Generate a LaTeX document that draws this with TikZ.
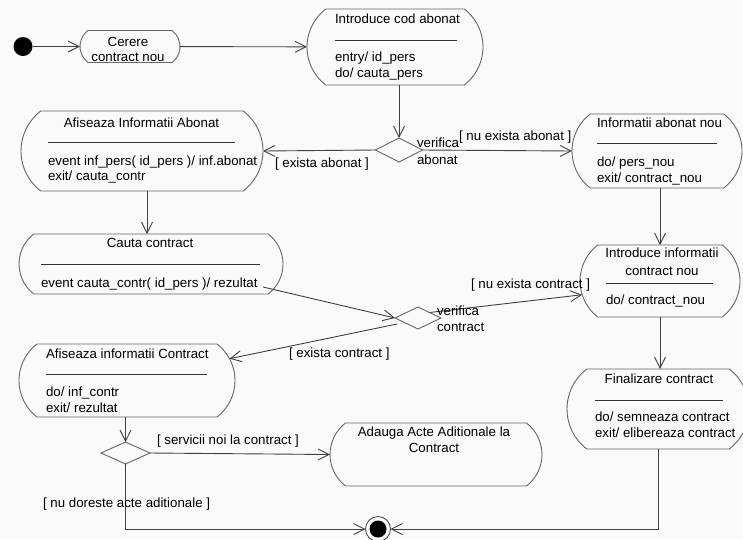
\documentclass[tikz,border=0pt]{standalone}
\usepackage{fontspec}
\setmainfont{Liberation Sans}
\usetikzlibrary{arrows.meta, shapes.misc, shapes.geometric, positioning}

\begin{document}
\begin{tikzpicture}[
    x=1pt, y=-1pt,
    font=\fontsize{13.3}{15.5}\selectfont,
    every node/.style={inner sep=0pt, outer sep=0pt},
    stt/.style={rounded rectangle, rounded rectangle arc length=105,
      draw=black!60, line width=0.9pt},
    dec/.style={diamond, draw=black!60, line width=0.9pt},
    trans/.style={draw=black!75, line width=0.9pt,
      -{Straight Barb[length=11pt, width=11pt]}},
    sep/.style={draw=black!80, line width=0.9pt},
    txt/.style={anchor=base west, align=left},
    ctxt/.style={anchor=base, align=center},
    startnode/.style={circle, fill=black, minimum size=19pt},
    stopnode/.style={circle, draw=black!70, line width=0.9pt, fill=white,
      minimum size=25pt,
      path picture={\fill[black] (path picture bounding box.center) circle (8.5pt);}},
  ]
  \fill[white!98!black] (0,0) rectangle (743,539);
  \useasboundingbox (0,0) rectangle (743,539);
  % start and end
  \node[startnode] (start) at (23,46.5) {};
  \node[stopnode]  (stop)  at (378,529) {};
  % states
  \node[stt, minimum width=100, minimum height=32] (cerere)   at (130,46.5) {};
  \node[stt, minimum width=176, minimum height=76] (intro)    at (395,47) {};
  \node[stt, minimum width=242, minimum height=80] (afisAb)   at (142,151) {};
  \node[stt, minimum width=170, minimum height=74] (infoNou)  at (657,151) {};
  \node[stt, minimum width=264, minimum height=60] (cauta)    at (151,264) {};
  \node[stt, minimum width=160, minimum height=72] (introCtr) at (660,281) {};
  \node[stt, minimum width=216, minimum height=73] (afisCtr)  at (127,380.5) {};
  \node[stt, minimum width=212, minimum height=63] (adauga)   at (436,454.5) {};
  \node[stt, minimum width=182, minimum height=80] (finaliz)  at (658,409) {};
  % decisions
  \node[dec, minimum width=47, minimum height=24] (vAb)  at (399,150) {};
  \node[dec, minimum width=46, minimum height=22] (vCtr) at (418,318) {};
  \node[dec, minimum width=49, minimum height=22] (vSrv) at (125.5,453) {};
  % state texts (base = last line)
  \node[ctxt] (cerere-t) at (128,61.5) {Cerere\\[-0.5pt]contract nou};
  \node[txt] (intro-t) at (335,23.5) {Introduce cod abonat};
  \draw[sep] (335,40) -- (457,40);
  \node[txt] (intro-b) at (335,77) {entry/ id\_pers\\do/ cauta\_pers};
  \node[ctxt] (afisAb-t) at (141.5,127.5) {Afiseaza Informatii Abonat};
  \draw[sep] (48,142) -- (235,142);
  \node[txt] (afisAb-b) at (48,180) {event inf\_pers( id\_pers )/ inf.abonat\\[-1pt]exit/ cauta\_contr};
  \node[txt] (infoNou-t) at (597,127.5) {Informatii abonat nou};
  \draw[sep] (597,143) -- (717,143);
  \node[txt] (infoNou-b) at (597,182) {do/ pers\_nou\\exit/ contract\_nou};
  \node[ctxt] (cauta-t) at (150,247.5) {Cauta contract};
  \draw[sep] (41,264) -- (260,264);
  \node[txt] (cauta-b) at (41,287.5) {event cauta\_contr( id\_pers )/ rezultat};
  \node[ctxt] (introCtr-t) at (662,275.5) {Introduce informatii\\[2.5pt]contract nou};
  \draw[sep] (606,283) -- (713,283);
  \node[txt] (introCtr-b) at (606,304.5) {do/ contract\_nou};
  \node[txt] (afisCtr-t) at (46,358.5) {Afiseaza informatii Contract};
  \draw[sep] (46,374) -- (207,374);
  \node[txt] (afisCtr-b) at (46,412.5) {do/ inf\_contr\\[0.5pt]exit/ rezultat};
  \node[ctxt] (adauga-t) at (434,452.5) {Adauga Acte Aditionale la\\[0.5pt]Contract};
  \node[ctxt] (finaliz-t) at (659,383.5) {Finalizare contract};
  \draw[sep] (595,400) -- (723,400);
  \node[txt] (finaliz-b) at (595,437.5) {do/ semneaza contract\\[0.5pt]exit/ elibereaza contract};
  % transitions
  \draw[trans] (start) -- (cerere);
  \draw[trans] (cerere) -- (intro);
  \draw[trans] (intro.south -| vAb.north) -- (vAb.north);
  \draw[trans] (vAb.west) -- (afisAb.east);
  \draw[trans] (vAb.east) -- (infoNou.west);
  \draw[trans] (infoNou.south -| introCtr.north) -- (introCtr.north);
  \draw[trans] ([shift={(5,0)}]afisAb.south) -- ([shift={(5,0)}]afisAb.south |- cauta.north);
  \draw[trans] ([shift={(112,23)}]cauta.center) -- (vCtr.west);
  \draw[trans] (vCtr.north east) -- (introCtr.190);
  \draw[trans] ([shift={(-21,6)}]vCtr.center) -- (afisCtr.12);
  \draw[trans] (afisCtr.south -| vSrv.north) -- (vSrv.north);
  \draw[trans] (vSrv.east) -- (adauga.west);
  \draw[trans] (vSrv.south) |- (stop.west);
  \draw[trans] (introCtr.south) -- (introCtr.south |- finaliz.north);
  \draw[trans] (finaliz.south) |- (stop.east);
  % guards and decision labels
  \node[txt] (vAb-l) at (417,164.5) {verifica\\[1.5pt]abonat};
  \node[txt] (exAb) at (275,167.5) {[ exista abonat ]};
  \node[txt] (nuAb) at (459,140.5) {[ nu exista abonat ]};
  \node[txt] (vCtr-l) at (437,331.5) {verifica\\[0.5pt]contract};
  \node[txt] (nuCtr) at (471,288.5) {[ nu exista contract ]};
  \node[txt] (exCtr) at (289,357.5) {[ exista contract ]};
  \node[txt] (srv) at (157,444.5) {[ servicii noi la contract ]};
  \node[txt] (nuAct) at (43,507.5) {[ nu doreste acte aditionale ]};
\end{tikzpicture}
\end{document}
